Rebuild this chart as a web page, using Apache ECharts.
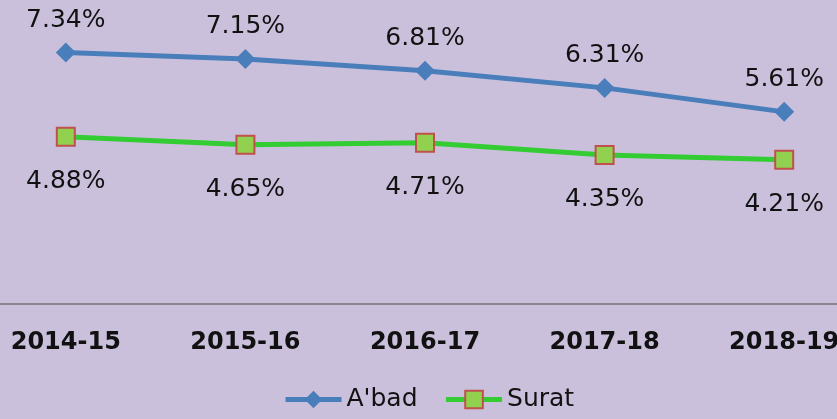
<!DOCTYPE html>
<html>
<head>
<meta charset="utf-8">
<script src="https://cdn.jsdelivr.net/npm/echarts@6/dist/echarts.min.js"></script>
<style>
  html, body { margin: 0; padding: 0; background: #cbc0dc; }
  #chart { width: 837px; height: 419px; }
</style>
</head>
<body>
<div id="chart"></div>
<script>
const categories = ["2014-15", "2015-16", "2016-17", "2017-18", "2018-19"];
const abadValues = [7.34, 7.15, 6.81, 6.31, 5.61];
const suratValues = [4.88, 4.65, 4.71, 4.35, 4.21];

const myChart = echarts.init(document.getElementById("chart"));
const labelFont = {
  color: "#111",
  fontFamily: "DejaVu Sans",
  fontSize: 25,
  formatter: (p) => p.value.toFixed(2) + "%",
};

const option = {
  backgroundColor: "#cbc0dc",
  animation: false,
  grid: {
    left: -24,
    right: -37,
    top: 30,
    height: 274,
    containLabel: false,
    outerBoundsMode: "none",
  },
  legend: {
    bottom: 2,
    left: 278,
    itemWidth: 56,
    itemHeight: 22,
    itemGap: 26,
    lineStyle: { width: 5 },
    textStyle: { color: "#111", fontFamily: "DejaVu Sans", fontSize: 25 },
    data: ["A'bad", "Surat"],
  },
  xAxis: {
    type: "category",
    data: categories,
    axisTick: { show: false },
    axisLine: { lineStyle: { color: "#8a8590", width: 2 } },
    axisLabel: {
      color: "#111",
      fontFamily: "DejaVu Sans",
      fontWeight: "bold",
      fontSize: 24,
      margin: 27,
    },
  },
  yAxis: {
    type: "value",
    min: 0,
    max: 8,
    show: false,
    splitLine: { show: false },
  },
  series: [
    {
      name: "A'bad",
      type: "line",
      data: abadValues,
      symbol: "diamond",
      symbolSize: 20,
      lineStyle: { color: "#4a7ebb", width: 5 },
      itemStyle: { color: "#4a7ebb" },
      label: { show: true, position: "top", distance: 10, ...labelFont },
    },
    {
      name: "Surat",
      type: "line",
      data: suratValues,
      symbol: "rect",
      symbolSize: 18,
      lineStyle: { color: "#33cc33", width: 5 },
      itemStyle: { color: "#92d050", borderColor: "#c0504d", borderWidth: 2 },
      label: { show: true, position: "bottom", distance: 22, ...labelFont },
    },
  ],
};

myChart.setOption(option);
</script>
</body>
</html>
